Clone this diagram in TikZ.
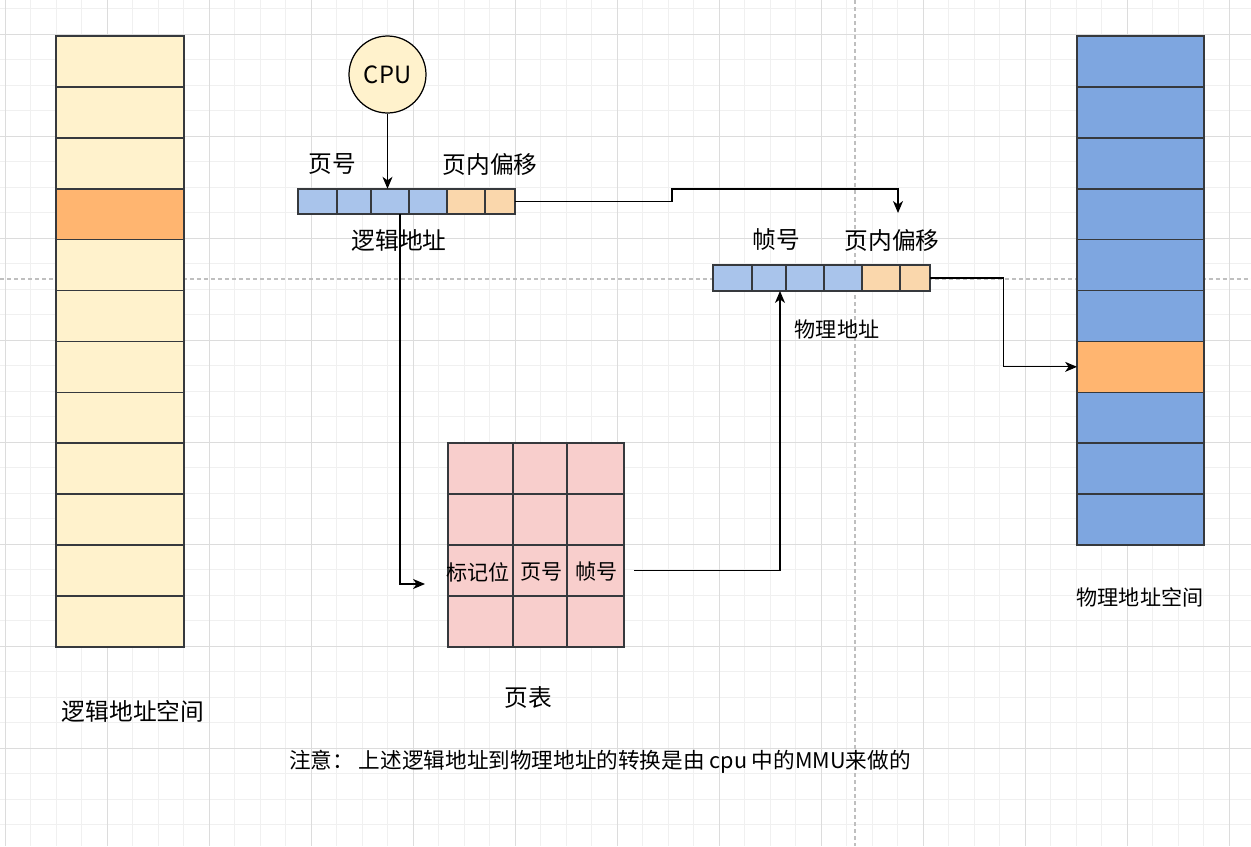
\documentclass[tikz,border=0pt]{standalone}
\usepackage{fontspec}
\setmainfont{Noto Sans CJK SC}
\usetikzlibrary{arrows.meta}

\definecolor{cream}{HTML}{FFF2CC}
\definecolor{hot}{HTML}{FFB570}
\definecolor{frame}{HTML}{7EA6E0}
\definecolor{pagebit}{HTML}{A9C4EB}
\definecolor{offbit}{HTML}{FAD7AC}
\definecolor{tablepink}{HTML}{F8CECC}
\definecolor{cellline}{HTML}{36393D}
\definecolor{gridminor}{HTML}{F0F0F0}
\definecolor{gridmajor}{HTML}{DCDCDC}

\begin{document}
\begin{tikzpicture}[x=0.02cm, y=-0.02cm,
  every node/.style={font=\fontsize{13.5pt}{16pt}\selectfont},
  small/.style={font=\fontsize{12pt}{14pt}\selectfont},
  cell/.style={inner sep=0pt, outer sep=0pt},
  rim/.style={draw=cellline, line width=0.9pt},
  pagebreak/.style={draw=black!25, dash pattern=on 2.3pt off 1.7pt, line width=0.6pt},
  arr/.style={-{Stealth[length=6.8pt, width=5.7pt, inset=2pt]}, line width=0.6pt}]
  % canvas and grid
  \useasboundingbox[fill=white] (0,0) rectangle (1251,846);
  \foreach \i in {0,...,49} \draw[gridminor, line width=0.5pt] (5+25.5*\i,0) -- (5+25.5*\i,846);
  \foreach \i in {0,...,33} \draw[gridminor, line width=0.5pt] (0,8.5+25.5*\i) -- (1251,8.5+25.5*\i);
  \foreach \i in {0,...,12} \draw[gridmajor, line width=0.5pt] (5+102*\i,0) -- (5+102*\i,846);
  \foreach \i in {0,...,8} \draw[gridmajor, line width=0.5pt] (0,34+102*\i) -- (1251,34+102*\i);
  \draw[pagebreak] (855,0) -- (855,846);
  \draw[pagebreak] (0,279) -- (1251,279);

  % Logical address space
  \foreach \c [count=\i] in {cream,cream,cream,hot,cream,cream,cream,cream,cream,cream,cream,cream}
    \node[cell, fill=\c, minimum width=2.56cm, minimum height=1.018cm] (lm\i) at (120, 36+50.9*\i-25.45) {};
  \foreach \i in {1,...,12} \draw[rim] (lm\i.south west) rectangle (lm\i.north east);
  \node (lm-name) at (133,711) {逻辑地址空间};

  % Physical address space
  \foreach \c [count=\i] in {frame,frame,frame,frame,frame,frame,hot,frame,frame,frame}
    \node[cell, fill=\c, minimum width=2.54cm, minimum height=1.018cm] (pm\i) at (1140.5, 36+50.9*\i-25.45) {};
  \foreach \i in {1,...,10} \draw[rim] (pm\i.south west) rectangle (pm\i.north east);
  \node[small] (pm-name) at (1140,597) {物理地址空间};

  % CPU
  \node[draw, circle, fill=cream, line width=0.7pt, minimum size=1.54cm, inner sep=0pt] (cpu) at (387.5,74.5) {CPU};

  % Logical address
  \foreach \l/\w/\c [count=\i] in {0/39/pagebit, 39/34/pagebit, 73/38/pagebit, 111/38/pagebit, 149/38/offbit, 187/30/offbit}
    \node[cell, fill=\c, minimum width=\w*0.02cm, minimum height=0.51cm] (la\i) at (298+\l+\w/2, 201.5) {};
  \foreach \i in {1,...,6} \draw[rim] (la\i.south west) rectangle (la\i.north east);
  \node (la-pn) at (332,164) {页号};
  \node (la-off) at (490,164) {页内偏移};
  \node (la-name) at (399,240) {逻辑地址};

  % Physical address
  \foreach \l/\w/\c [count=\i] in {0/39/pagebit, 39/34/pagebit, 73/38/pagebit, 111/38/pagebit, 149/38/offbit, 187/30/offbit}
    \node[cell, fill=\c, minimum width=\w*0.02cm, minimum height=0.52cm] (pa\i) at (713+\l+\w/2, 278) {};
  \foreach \i in {1,...,6} \draw[rim] (pa\i.south west) rectangle (pa\i.north east);
  \node (pa-fn) at (776,240) {帧号};
  \node (pa-off) at (892,240) {页内偏移};
  \node[small] (pa-name) at (837,329) {物理地址};

  % Page table
  \foreach \r in {1,...,4}
    \foreach \x/\w/\c in {448/65/1, 513/54/2, 567/57/3}
      \node[cell, fill=tablepink, minimum width=\w*0.02cm, minimum height=1.02cm] (pt-\r-\c) at (\x+\w/2, 443+51*\r-25.5) {};
  \foreach \r in {1,...,4}
    \foreach \c in {1,2,3} \draw[rim] (pt-\r-\c.south west) rectangle (pt-\r-\c.north east);
  \node[small] (pt-flag) at (478,572) {标记位};
  \node[small] (pt-page) at (541.5,572) {页号};
  \node[small] (pt-frame) at (596.5,572) {帧号};
  \node (pt-name) at (528,698) {页表};

  \node[font=\fontsize{12.3pt}{14pt}\selectfont] (note) at (600,762) {注意： 上述逻辑地址到物理地址的转换是由 cpu 中的MMU来做的};

  % connectors
  \coordinate (pa-in) at (898,213);
  \coordinate (pt-in) at (425,584);
  \draw[arr] (cpu) -- (cpu |- la3.north);
  \draw[arr] (la6.east) -| (672,189) -| (pa-in);
  \draw[arr] ([xshift=0.2cm]la3.south) |- (pt-in);
  \draw[arr] ([xshift=0.2cm]pt-3-3.east) -| ([xshift=0.22cm]pa2.south);
  \draw[arr] (pa6.east) -| (1003.5,320) |- (pm7.west);
\end{tikzpicture}
\end{document}
